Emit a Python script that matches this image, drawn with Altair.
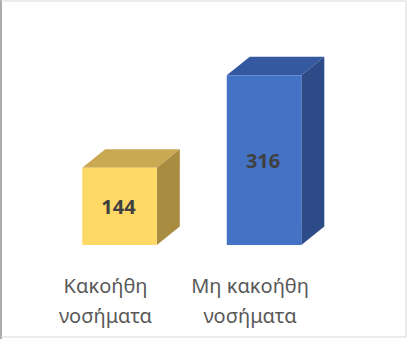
import altair as alt
import pandas as pd

# Chart data
categories = ["Κακοήθη\nνοσήματα", "Μη κακοήθη\nνοσήματα"]
counts = [144, 316]
front_colors = ["#FFD966", "#4472C4"]
top_colors = ["#C9A951", "#3559A0"]
side_colors = ["#A88C40", "#2C4B87"]

# Geometry of the 3D boxes, in data units
HALF_W = 0.258      # half width of the front face
DEPTH_X = 0.159     # horizontal depth
DEPTH_Y = 34.4      # vertical depth
LABEL_Y = -89.4     # baseline of the first category-label line

W, H = 409, 339
X_DOMAIN = [-0.827, 2.003]
Y_DOMAIN = [-175.0, 456.2]

front_rows, face_rows = [], []
for i, (cat, v) in enumerate(zip(categories, counts)):
    x0, x1 = i - HALF_W, i + HALF_W
    front_rows.append({"idx": i, "x0": x0, "x1": x1, "v": v, "cat": cat,
                       "fill": front_colors[i], "label": str(v)})
    # top face (parallelogram drawn as an area band)
    top = f"top{i}"
    for x, lo, hi in [(x0, v, v), (x0 + DEPTH_X, v, v + DEPTH_Y),
                      (x1, v, v + DEPTH_Y), (x1 + DEPTH_X, v + DEPTH_Y, v + DEPTH_Y)]:
        face_rows.append({"face": top, "x": x, "lo": lo, "hi": hi, "fill": top_colors[i]})
    # right side face
    side = f"side{i}"
    for x, lo, hi in [(x1, 0, v), (x1 + DEPTH_X, DEPTH_Y, v + DEPTH_Y)]:
        face_rows.append({"face": side, "x": x, "lo": lo, "hi": hi, "fill": side_colors[i]})

front_df = pd.DataFrame(front_rows)
face_df = pd.DataFrame(face_rows)

xscale = alt.Scale(domain=X_DOMAIN, nice=False, zero=False)
yscale = alt.Scale(domain=Y_DOMAIN, nice=False, zero=False)

faces = alt.Chart(face_df).mark_area(interpolate="linear", strokeWidth=0).encode(
    x=alt.X("x:Q", scale=xscale, axis=None),
    y=alt.Y("lo:Q", scale=yscale, axis=None),
    y2="hi:Q",
    color=alt.Color("fill:N", scale=None),
    detail="face:N",
)

front = alt.Chart(front_df).mark_rect(strokeWidth=0).encode(
    x=alt.X("x0:Q", scale=xscale, axis=None),
    x2="x1:Q",
    y=alt.Y("v:Q", scale=yscale, axis=None),
    y2=alt.datum(0),
    color=alt.Color("fill:N", scale=None),
)

value_text = alt.Chart(front_df).transform_calculate(mid="datum.v / 2").mark_text(
    font="Noto Sans", fontSize=20, fontWeight="bold", color="#404040",
    baseline="middle", dy=1.5, dx=-1,
).encode(
    x=alt.X("idx:Q", scale=xscale, axis=None),
    y=alt.Y("mid:Q", scale=yscale, axis=None),
    text="label:N",
)

# two-line category labels under each box
cat_text = alt.Chart(front_df).mark_text(
    font="Noto Sans", fontSize=20, color="#595959", lineBreak="\n",
    lineHeight=30, baseline="alphabetic", align="center", dx=-14,
).encode(
    x=alt.X("idx:Q", scale=xscale, axis=None),
    y=alt.datum(LABEL_Y, scale=yscale),
    text="cat:N",
)

# frame around the chart
frame_df = pd.DataFrame({"k": [0]})
left = alt.Chart(frame_df).mark_rule(color="#595959", strokeWidth=1).encode(
    x=alt.value(1), y=alt.value(0), y2=alt.value(H))
top_edge = alt.Chart(frame_df).mark_rule(color="#D9D9D9", strokeWidth=1).encode(
    x=alt.value(1), x2=alt.value(406), y=alt.value(1))
right = alt.Chart(frame_df).mark_rule(color="#D9D9D9", strokeWidth=1).encode(
    x=alt.value(406), y=alt.value(1), y2=alt.value(337))
bottom = alt.Chart(frame_df).mark_rule(color="#D9D9D9", strokeWidth=1).encode(
    x=alt.value(1), x2=alt.value(406), y=alt.value(337))

chart = alt.layer(
    faces, front, value_text, cat_text, left, top_edge, right, bottom
).properties(
    width=W, height=H, padding=0, autosize=alt.AutoSizeParams(type="none"),
    background="white",
).configure_view(stroke=None)

chart.save("out.html", embed_options={"renderer": "svg", "actions": False})
